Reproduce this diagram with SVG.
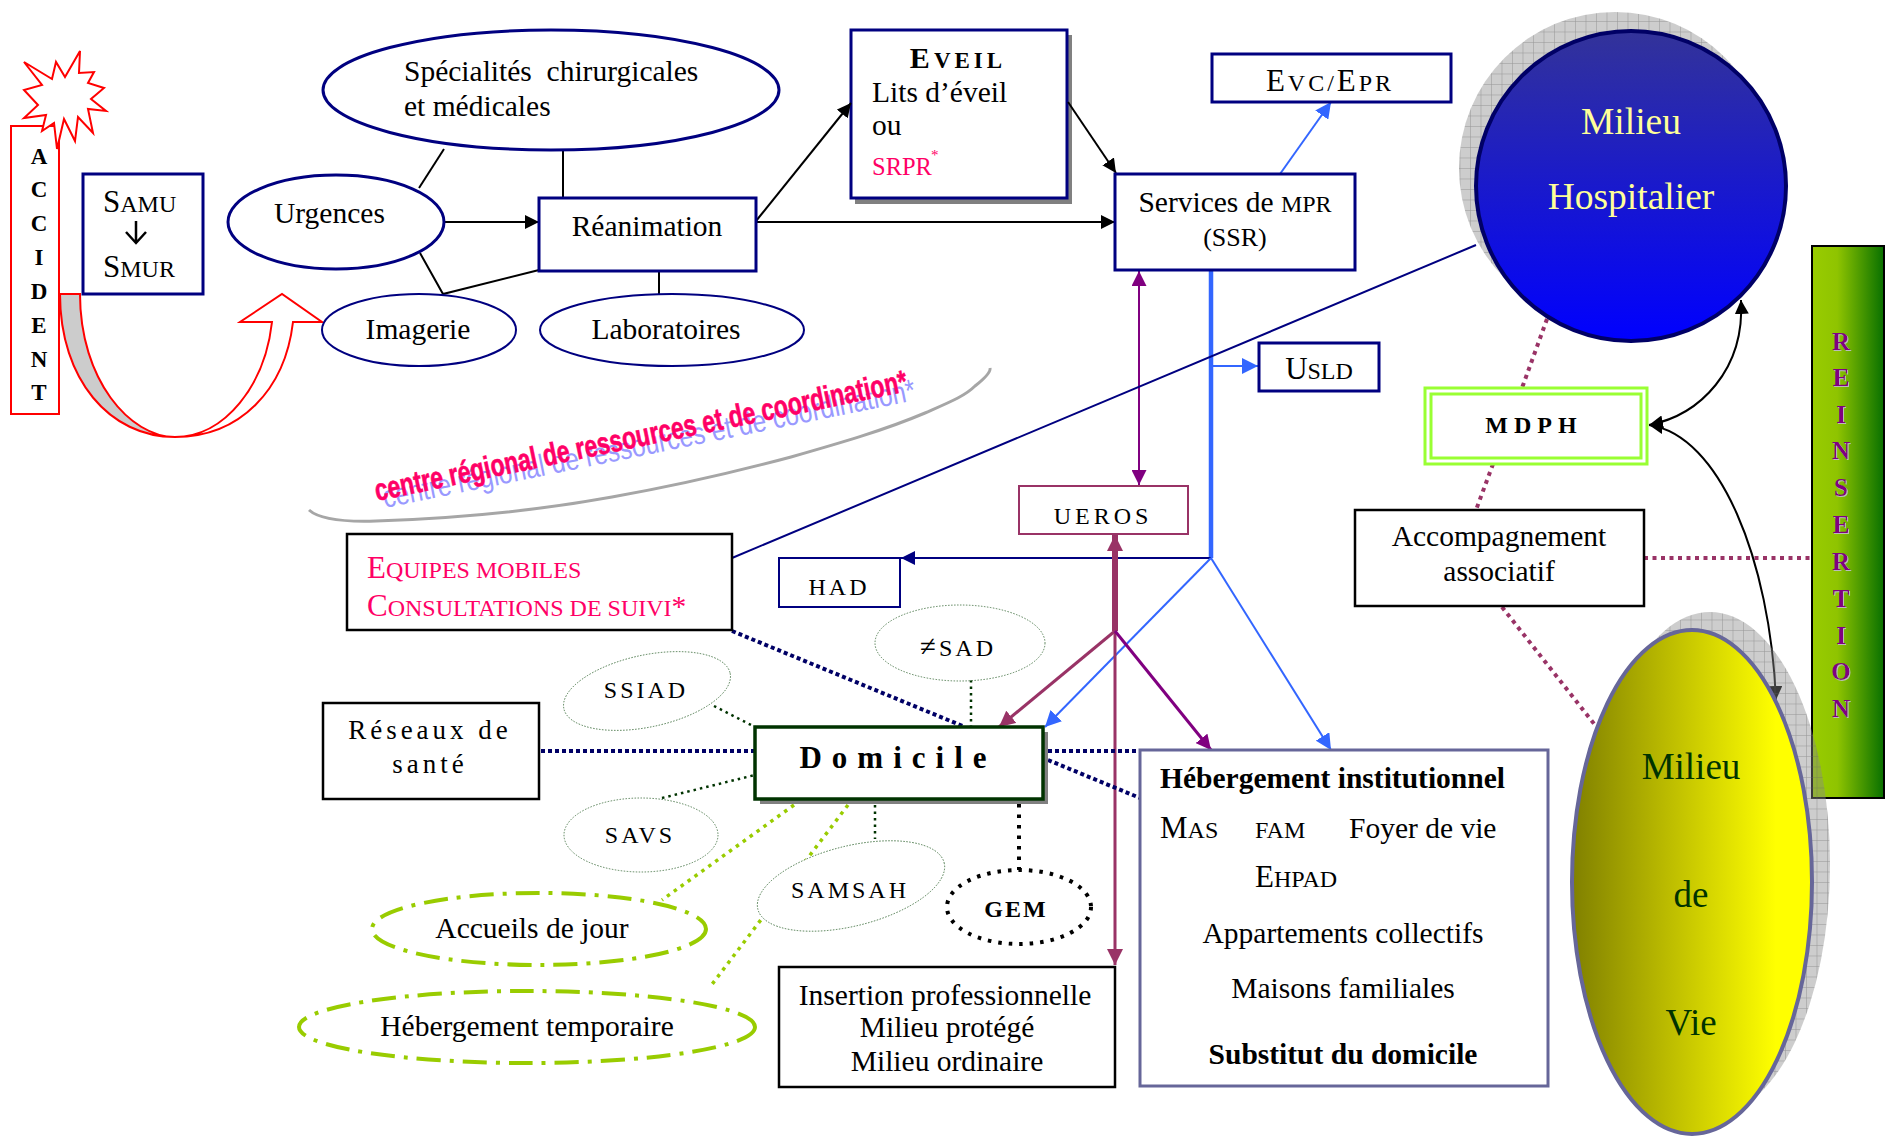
<svg xmlns="http://www.w3.org/2000/svg" width="1887" height="1144" viewBox="0 0 1887 1144">
<style>
text{font-family:"Liberation Serif","Times New Roman",serif;font-size:29.5px;fill:#000;white-space:pre}
.m{text-anchor:middle}
.b{font-weight:bold}
.sp{letter-spacing:3px;font-size:24px}
.pink{fill:#ff0066}
.box{fill:#fff;stroke:#000080;stroke-width:3}
.blk{fill:#fff;stroke:#000;stroke-width:2.5}
.nv{fill:#fff;stroke:#000080;stroke-width:3}
.nv2{fill:#fff;stroke:#000080;stroke-width:2}
.thin{fill:#fff;stroke:#336633;stroke-width:.8;stroke-dasharray:1.5 1.5}
.gdash{fill:#fff;stroke:#99cc00;stroke-width:4;stroke-dasharray:24 9 4 9}
.red{fill:#fff;stroke:#ff0000;stroke-width:2}
.l{fill:none;stroke:#000;stroke-width:2}
.nd{fill:none;stroke:#000066;stroke-width:4;stroke-dasharray:4 3}
.gd{fill:none;stroke:#003300;stroke-width:2.5;stroke-dasharray:2.5 4}
.ld{fill:none;stroke:#99cc00;stroke-width:3.5;stroke-dasharray:3.5 5}
.pd{fill:none;stroke:#993366;stroke-width:4;stroke-dasharray:4 4.5}
.bl{fill:none;stroke:#3366ff;stroke-width:2}
.ri{font-weight:bold;font-size:25px;fill:#800080;text-anchor:middle;filter:url(#soft)}
.acc{font-weight:bold;font-size:23px;text-anchor:middle}
.sw{font-family:"Liberation Sans",Arial,sans-serif;font-size:31px}
.mh{font-size:37.5px;fill:#ffff99}
.mv{font-size:37px;fill:#003300}
</style>
<defs>
<marker id="aK" viewBox="0 0 10 10" refX="10" refY="5" markerWidth="14" markerHeight="14" markerUnits="userSpaceOnUse" orient="auto-start-reverse"><path d="M0,0L10,5L0,10Z" fill="#000"/></marker>
<marker id="aB" viewBox="0 0 10 10" refX="10" refY="5" markerWidth="16" markerHeight="16" markerUnits="userSpaceOnUse" orient="auto-start-reverse"><path d="M0,0L10,5L0,10Z" fill="#3366ff"/></marker>
<marker id="aN" viewBox="0 0 10 10" refX="10" refY="5" markerWidth="14" markerHeight="14" markerUnits="userSpaceOnUse" orient="auto-start-reverse"><path d="M0,0L10,5L0,10Z" fill="#000080"/></marker>
<marker id="aP" viewBox="0 0 10 10" refX="10" refY="5" markerWidth="15" markerHeight="15" markerUnits="userSpaceOnUse" orient="auto-start-reverse"><path d="M0,0L10,5L0,10Z" fill="#800080"/></marker>
<marker id="aM" viewBox="0 0 10 10" refX="10" refY="5" markerWidth="16" markerHeight="16" markerUnits="userSpaceOnUse" orient="auto-start-reverse"><path d="M0,0L10,5L0,10Z" fill="#993366"/></marker>
<linearGradient id="gH" x1="0" y1="0" x2="0" y2="1"><stop offset="0" stop-color="#333399"/><stop offset="1" stop-color="#0000ff"/></linearGradient>
<linearGradient id="gV" x1="0" y1="0" x2="1" y2="0"><stop offset="0" stop-color="#808000"/><stop offset=".85" stop-color="#ffff00"/><stop offset="1" stop-color="#ffff00"/></linearGradient>
<linearGradient id="gR" x1="0" y1="0" x2="1" y2="0"><stop offset="0" stop-color="#99cc00"/><stop offset=".35" stop-color="#8fc400"/><stop offset="1" stop-color="#087000"/></linearGradient>
<pattern id="hatch" width="10.5" height="10.5" patternUnits="userSpaceOnUse"><rect width="10.5" height="10.5" fill="#888" fill-opacity=".42"/><path d="M0,0H10.5M0,0V10.5" stroke="#666" stroke-opacity=".55" stroke-width="1"/></pattern>
<filter id="soft" x="-20%" y="-20%" width="150%" height="150%"><feDropShadow dx="1" dy="1" stdDeviation="0" flood-color="#bbbbbb"/></filter>
</defs>
<rect width="1887" height="1144" fill="#fff"/>
<g id="reinsertion"><rect x="1812" y="246" width="72" height="552" fill="url(#gR)" stroke="#000" stroke-width="2"/>
<text class="ri" x="1841" y="350">R</text><text class="ri" x="1841" y="386">E</text><text class="ri" x="1841" y="423">I</text><text class="ri" x="1841" y="459">N</text><text class="ri" x="1841" y="496">S</text><text class="ri" x="1841" y="533">E</text><text class="ri" x="1841" y="570">R</text><text class="ri" x="1841" y="607">T</text><text class="ri" x="1841" y="644">I</text><text class="ri" x="1841" y="680">O</text><text class="ri" x="1841" y="717">N</text></g>
<g id="eveil"><rect x="855" y="35" width="217" height="169" fill="#808080"/><rect class="box" x="851" y="30" width="216" height="168"/>
<text class="b m" x="958" y="68" letter-spacing="4"><tspan font-size="30">E</tspan><tspan font-size="23">VEIL</tspan></text>
<text x="872" y="102">Lits d’éveil</text><text x="872" y="135">ou</text>
<text class="pink" x="872" y="175" style="font-size:24.5px">SRPR</text><text class="pink" x="931" y="160" style="font-size:15px">*</text></g>
<g id="connectors">
<path class="l" d="M444,222H539" marker-end="url(#aK)"/>
<path class="l" d="M444,149L419,188"/>
<path class="l" d="M563,149V199"/>
<path class="l" d="M420,253L443,294L539,270"/>
<path class="l" d="M659,272V295"/>
<path class="l" d="M756,221L851,103" marker-end="url(#aK)"/>
<path class="l" d="M756,222H1115" marker-end="url(#aK)"/>
<path class="l" d="M1068,102L1116,173" marker-end="url(#aK)"/>
<path class="bl" d="M1280,174L1331,102" marker-end="url(#aB)"/>
<path d="M1211,270V558" fill="none" stroke="#3366ff" stroke-width="4.5"/>
<path class="bl" d="M1211,366H1258" marker-end="url(#aB)"/>
<path d="M1139,271V485" fill="none" stroke="#800080" stroke-width="2" marker-start="url(#aP)" marker-end="url(#aP)"/>
<path d="M1211,558H901" fill="none" stroke="#000080" stroke-width="2" marker-end="url(#aN)"/>
<path d="M1476,245L732,558" fill="none" stroke="#000080" stroke-width="2"/>
<path class="bl" d="M1211,558L1045,727" marker-end="url(#aB)"/>
<path class="bl" d="M1211,558L1331,750" marker-end="url(#aB)"/>
<path d="M1115,535V631" fill="none" stroke="#993366" stroke-width="6"/>
<path d="M1115,535V552" fill="none" stroke="#993366" stroke-width="2" marker-start="url(#aM)"/>
<path d="M1115,631V965" fill="none" stroke="#993366" stroke-width="3" marker-end="url(#aM)"/>
<path d="M1115,631L999,727" fill="none" stroke="#993366" stroke-width="3" marker-end="url(#aM)"/>
<path d="M1115,631L1211,750" fill="none" stroke="#800080" stroke-width="3" marker-end="url(#aP)"/>
<path class="nd" d="M541,751H755"/>
<path class="nd" d="M732,631L965,727"/>
<path class="nd" d="M1048,751H1140"/>
<path class="nd" d="M1048,760L1140,798"/>
<path class="gd" d="M714,706L755,727"/>
<path class="gd" d="M971,680V727"/>
<path class="gd" d="M662,798L755,775"/>
<path class="gd" d="M875,805V839"/>
<path d="M1019,804V870" fill="none" stroke="#000" stroke-width="4" stroke-dasharray="3.5 7"/>
<path class="ld" d="M794,805L662,900"/>
<path class="ld" d="M848,805L710,987"/>
<path class="pd" d="M1547,319L1522,388"/>
<path class="pd" d="M1493,464L1476,510"/>
<path class="pd" d="M1644,558H1811"/>
<path class="pd" d="M1502,607L1595,725"/>
<path class="l" d="M1649,425C1700,415 1745,370 1741,300" marker-start="url(#aK)" marker-end="url(#aK)"/>
<path class="l" d="M1649,425C1720,435 1770,560 1776,700" marker-start="url(#aK)" marker-end="url(#aK)"/>
</g>
<g id="accident"><rect x="11" y="126" width="48" height="288" fill="#fff" stroke="#ff0000" stroke-width="2"/>
<polygon class="red" points="24,62 52,79 56,62 65,77 80,51 79,73 94,72 88,83 104,88 91,99 106,111 88,109 93,133 78,117 75,141 64,119 57,149 54,123 42,131 46,115 24,118 38,105 24,90 42,85"/>
<text class="acc" x="39" y="164">A</text><text class="acc" x="39" y="197">C</text><text class="acc" x="39" y="231">C</text><text class="acc" x="39" y="265">I</text><text class="acc" x="39" y="299">D</text><text class="acc" x="39" y="333">E</text><text class="acc" x="39" y="367">N</text><text class="acc" x="39" y="400">T</text></g>
<g id="curved-arrow">
<path d="M60,294H80C80,380 130,437 175,437C110,437 60,380 60,294Z" fill="#cccccc" stroke="#ff0000" stroke-width="2"/>
<path class="red" d="M175,437C225,437 265,385 272,322H240L282,294L322,322H293C285,390 240,437 175,437Z"/></g>
<g id="samu"><rect class="box" x="83" y="174" width="120" height="120"/>
<text x="103" y="212"><tspan font-size="31">S</tspan><tspan font-size="24">AMU</tspan></text>
<path d="M136,221V243M126,232L136,243L146,232" fill="none" stroke="#000" stroke-width="2.5"/>
<text x="103" y="277"><tspan font-size="31">S</tspan><tspan font-size="24">MUR</tspan></text></g>
<g id="specialites"><ellipse class="nv" cx="551" cy="90" rx="228" ry="60"/>
<text x="404" y="81">Spécialités  chirurgicales</text><text x="404" y="116">et médicales</text></g>
<g id="urgences"><ellipse class="nv" cx="336" cy="222" rx="108" ry="47"/><text x="274" y="223">Urgences</text></g>
<g id="reanimation"><rect class="box" x="539" y="198" width="217" height="73"/><text class="m" x="647" y="236">Réanimation</text></g>
<g id="imagerie"><ellipse class="nv2" cx="419" cy="330" rx="97" ry="36"/><text class="m" x="418" y="339">Imagerie</text></g>
<g id="laboratoires"><ellipse class="nv2" cx="672" cy="330" rx="132" ry="36"/><text class="m" x="666" y="339">Laboratoires</text></g>
<g id="evc"><rect class="nv" x="1212" y="54" width="239" height="48"/><text class="m" x="1330" y="91" letter-spacing="3"><tspan font-size="31">E</tspan><tspan font-size="24">VC/</tspan><tspan font-size="31">E</tspan><tspan font-size="24">PR</tspan></text></g>
<g id="services"><rect class="box" x="1115" y="174" width="240" height="96"/>
<text class="m" x="1235" y="212">Services de <tspan font-size="24">MPR</tspan></text><text class="m" x="1235" y="246" style="font-size:26px">(SSR)</text></g>
<g id="usld"><rect class="nv" x="1259" y="343" width="120" height="48"/><text class="m" x="1319" y="379"><tspan font-size="31">U</tspan><tspan font-size="24">SLD</tspan></text></g>
<g id="swoosh"><path d="M309,510C320,520 345,522 376,521C470,518 540,510 612,497C680,485 735,472 791,457C840,443 885,430 925,413C950,402 965,396 975,386C985,378 991,372 990,368" fill="none" stroke="#a6a6a6" stroke-width="3"/>
<text class="sw" transform="translate(385,508) rotate(-11.5)" textLength="543" lengthAdjust="spacingAndGlyphs" style="fill:#9999ff">centre régional de ressources et de coordination*</text>
<text class="sw b" transform="translate(377,501) rotate(-11.7)" textLength="543" lengthAdjust="spacingAndGlyphs" style="fill:#ff0066;stroke:#ff0066;stroke-width:.6">centre régional de ressources et de coordination*</text></g>
<g id="ueros"><rect x="1019" y="486" width="169" height="48" fill="#fff" stroke="#993366" stroke-width="2"/><text class="m sp" x="1103" y="524" style="letter-spacing:4px">UEROS</text></g>
<g id="had"><rect class="nv2" x="779" y="558" width="121" height="49"/><text class="m sp" x="839" y="595">HAD</text></g>
<g id="equipes"><rect class="blk" x="347" y="534" width="385" height="96"/>
<text class="pink" x="367" y="578"><tspan font-size="31">E</tspan><tspan font-size="24">QUIPES MOBILES</tspan></text>
<text class="pink" x="367" y="616"><tspan font-size="31">C</tspan><tspan font-size="24">ONSULTATIONS DE SUIVI</tspan><tspan font-size="29.5">*</tspan></text></g>
<g id="reseaux"><rect class="blk" x="323" y="703" width="216" height="96"/><text class="m" x="430" y="739" style="letter-spacing:4px;font-size:27px">Réseaux de</text><text class="m" x="430" y="773" style="letter-spacing:4px;font-size:27px">santé</text></g>
<g id="domicile"><rect x="760" y="732" width="288" height="72" fill="#808080"/><rect x="755" y="727" width="288" height="72" fill="#fff" stroke="#003300" stroke-width="3.5"/><text class="b m" x="898" y="768" style="font-size:31px;letter-spacing:10px">Domicile</text></g>
<g id="ssiad"><ellipse class="thin" cx="647" cy="691" rx="85" ry="36" transform="rotate(-12 647 691)"/><text class="m sp" x="646" y="698">SSIAD</text></g>
<g id="sad"><ellipse class="thin" cx="960" cy="643" rx="85" ry="38"/><text class="m sp" x="958" y="656"><tspan font-size="29">≠</tspan>SAD</text></g>
<g id="savs"><ellipse class="thin" cx="641" cy="835" rx="77" ry="37"/><text class="m sp" x="640" y="843">SAVS</text></g>
<g id="samsah"><ellipse class="thin" cx="851" cy="886" rx="96" ry="40" transform="rotate(-14 851 886)"/><text class="m sp" x="850" y="898">SAMSAH</text></g>
<g id="gem"><ellipse cx="1019" cy="907" rx="72" ry="37" fill="#fff" stroke="#000" stroke-width="4" stroke-dasharray="3.5 7"/><text class="b m" x="1016" y="917" style="font-size:24px;letter-spacing:2px">GEM</text></g>
<g id="accueils"><ellipse class="gdash" cx="539" cy="929" rx="167" ry="36"/><text class="m" x="532" y="938">Accueils de jour</text></g>
<g id="temporaire"><ellipse class="gdash" cx="527" cy="1027" rx="228" ry="36"/><text class="m" x="527" y="1036">Hébergement temporaire</text></g>
<g id="insertion"><rect class="blk" x="779" y="967" width="336" height="120"/>
<text class="m" x="945" y="1005">Insertion professionnelle</text><text class="m" x="947" y="1037">Milieu protégé</text><text class="m" x="947" y="1071">Milieu ordinaire</text></g>
<g id="hebergement"><rect x="1140" y="750" width="408" height="336" fill="#fff" stroke="#666699" stroke-width="3"/>
<text class="b" x="1160" y="788">Hébergement institutionnel</text>
<text x="1160" y="838"><tspan font-size="31">M</tspan><tspan font-size="24">AS</tspan></text>
<text x="1255" y="838" style="font-size:24px">FAM</text>
<text x="1349" y="838">Foyer de vie</text>
<text x="1255" y="887"><tspan font-size="31">E</tspan><tspan font-size="24">HPAD</tspan></text>
<text class="m" x="1343" y="943">Appartements collectifs</text>
<text class="m" x="1343" y="998">Maisons familiales</text>
<text class="b m" x="1343" y="1064">Substitut du domicile</text></g>
<g id="accompagnement"><rect class="blk" x="1355" y="510" width="289" height="96"/><text class="m" x="1499" y="546">Accompagnement</text><text class="m" x="1499" y="581">associatif</text></g>
<g id="mdph"><rect x="1425" y="388" width="222" height="76" fill="#fff" stroke="#99ff33" stroke-width="3"/><rect x="1431" y="394" width="210" height="64" fill="none" stroke="#99ff33" stroke-width="3"/><text class="b m" x="1534" y="433" style="font-size:24px;letter-spacing:6px">MDPH</text></g>
<g id="hospitalier"><circle cx="1615" cy="168" r="156" fill="url(#hatch)"/><circle cx="1631" cy="186" r="155" fill="url(#gH)" stroke="#000066" stroke-width="4"/>
<text class="m mh" x="1631" y="134">Milieu</text><text class="m mh" x="1631" y="209">Hospitalier</text></g>
<g id="vie"><ellipse cx="1710" cy="864" rx="120" ry="252" fill="url(#hatch)"/><ellipse cx="1692" cy="882" rx="120" ry="252" fill="url(#gV)" stroke="#666699" stroke-width="4"/>
<text class="m mv" x="1691" y="779">Milieu</text><text class="m mv" x="1691" y="907">de</text><text class="m mv" x="1691" y="1035">Vie</text></g>
</svg>
